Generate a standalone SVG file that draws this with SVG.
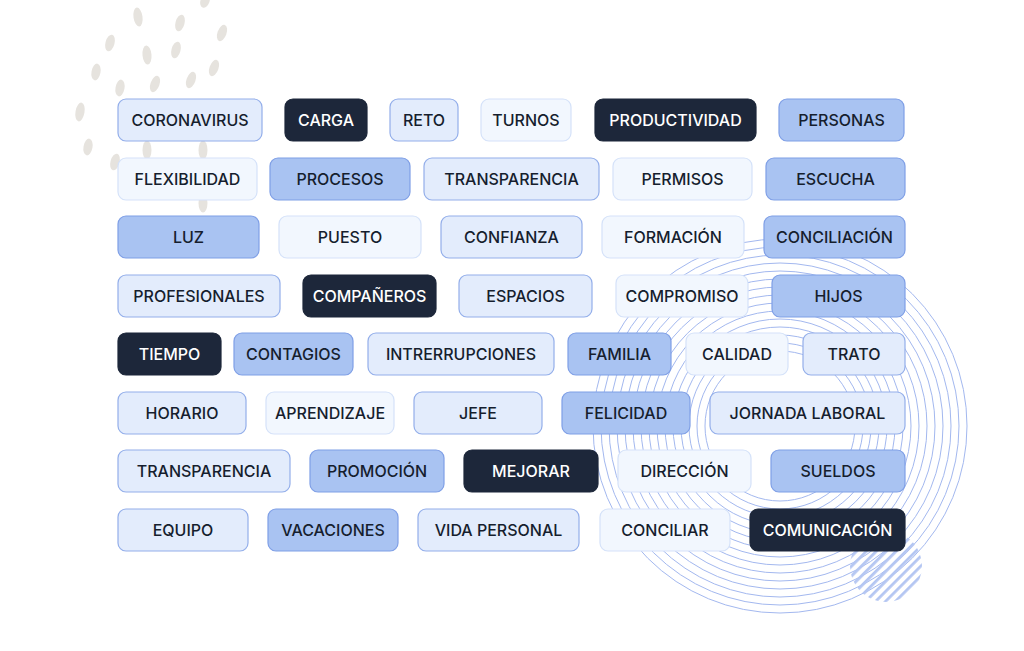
<svg xmlns="http://www.w3.org/2000/svg" width="1024" height="651" viewBox="0 0 1024 651">
<style>
.t rect{stroke-width:1.2}
.lt rect{fill:#f2f7fe;stroke:#d5e2f9}
.ml rect{fill:#e3ecfc;stroke:#93aeea}
.md rect{fill:#a9c3f2;stroke:#7f9fe6}
.dk rect{fill:#1d273a;stroke:#1d273a}
.t text{font-family:Inter,"Liberation Sans",sans-serif;font-size:16px;font-weight:500;fill:#161e2e;text-anchor:middle;dominant-baseline:central}
.dk text{fill:#ffffff}
.ring{fill:none;stroke:#a3b8ef;stroke-width:1}
.dash{fill:#e6e3de}
</style>
<defs>
<pattern id="stripes" patternUnits="userSpaceOnUse" width="7" height="7" patternTransform="rotate(45)">
<rect x="0" y="0" width="2.8" height="7" fill="#b4c6f2"/>
</pattern>
</defs>
<rect width="1024" height="651" fill="#ffffff"/>
<g id="dashes">
<ellipse class="dash" cx="138" cy="17" rx="4.5" ry="9.5" transform="rotate(-8 138 17)"/>
<ellipse class="dash" cx="180" cy="23" rx="4.5" ry="8.5" transform="rotate(15 180 23)"/>
<ellipse class="dash" cx="222" cy="33" rx="4.5" ry="8.5" transform="rotate(20 222 33)"/>
<ellipse class="dash" cx="205" cy="1" rx="4.5" ry="7" transform="rotate(20 205 1)"/>
<ellipse class="dash" cx="110" cy="43" rx="4.5" ry="8.5" transform="rotate(15 110 43)"/>
<ellipse class="dash" cx="147" cy="55" rx="4.5" ry="9.5" transform="rotate(-5 147 55)"/>
<ellipse class="dash" cx="176" cy="50" rx="4.5" ry="8.5" transform="rotate(15 176 50)"/>
<ellipse class="dash" cx="214" cy="68" rx="4.5" ry="8.5" transform="rotate(20 214 68)"/>
<ellipse class="dash" cx="96" cy="72" rx="4.5" ry="8.5" transform="rotate(10 96 72)"/>
<ellipse class="dash" cx="120" cy="88" rx="4.5" ry="8.5" transform="rotate(10 120 88)"/>
<ellipse class="dash" cx="155" cy="84" rx="4.5" ry="8.5" transform="rotate(20 155 84)"/>
<ellipse class="dash" cx="191" cy="80" rx="4.5" ry="8.5" transform="rotate(20 191 80)"/>
<ellipse class="dash" cx="80" cy="112" rx="4.5" ry="9.5" transform="rotate(10 80 112)"/>
<ellipse class="dash" cx="88" cy="147" rx="4.5" ry="8.5" transform="rotate(10 88 147)"/>
<ellipse class="dash" cx="115" cy="162" rx="4.5" ry="8.5" transform="rotate(15 115 162)"/>
<ellipse class="dash" cx="147" cy="150" rx="4.5" ry="9.5"/>
<ellipse class="dash" cx="203" cy="150" rx="4.5" ry="9.5"/>
<ellipse class="dash" cx="203" cy="203" rx="4.5" ry="9.5"/>
</g>
<g id="rings">
<circle class="ring" cx="780" cy="426" r="187"/>
<circle class="ring" cx="780" cy="426" r="179"/>
<circle class="ring" cx="780" cy="426" r="171"/>
<circle class="ring" cx="780" cy="426" r="163"/>
<circle class="ring" cx="780" cy="426" r="155"/>
<circle class="ring" cx="780" cy="426" r="147"/>
<circle class="ring" cx="780" cy="426" r="139"/>
<circle class="ring" cx="780" cy="426" r="131"/>
<circle class="ring" cx="780" cy="426" r="123"/>
<circle class="ring" cx="780" cy="426" r="115"/>
<circle class="ring" cx="780" cy="426" r="107"/>
<circle class="ring" cx="780" cy="426" r="99"/>
<circle class="ring" cx="780" cy="426" r="91"/>
<circle class="ring" cx="780" cy="426" r="83"/>
<circle class="ring" cx="780" cy="426" r="75"/>
</g>
<circle id="striped" cx="886" cy="566" r="36" fill="url(#stripes)"/>
<g id="tags">
<g id="n-coronavirus" class="t ml"><rect x="118" y="99" width="144" height="42" rx="8"/><text x="190" y="120">CORONAVIRUS</text></g>
<g id="n-carga" class="t dk"><rect x="285" y="99" width="82" height="42" rx="8"/><text x="326" y="120">CARGA</text></g>
<g id="n-reto" class="t ml"><rect x="390" y="99" width="68" height="42" rx="8"/><text x="424" y="120">RETO</text></g>
<g id="n-turnos" class="t lt"><rect x="481" y="99" width="90" height="42" rx="8"/><text x="526" y="120">TURNOS</text></g>
<g id="n-productividad" class="t dk"><rect x="595" y="99" width="161" height="42" rx="8"/><text x="675.5" y="120">PRODUCTIVIDAD</text></g>
<g id="n-personas" class="t md"><rect x="779" y="99" width="125" height="42" rx="8"/><text x="841.5" y="120">PERSONAS</text></g>

<g id="n-flexibilidad" class="t lt"><rect x="118" y="158" width="139" height="42" rx="8"/><text x="187.5" y="179">FLEXIBILIDAD</text></g>
<g id="n-procesos" class="t md"><rect x="270" y="158" width="140" height="42" rx="8"/><text x="340" y="179">PROCESOS</text></g>
<g id="n-transparencia1" class="t ml"><rect x="424" y="158" width="175" height="42" rx="8"/><text x="511.5" y="179">TRANSPARENCIA</text></g>
<g id="n-permisos" class="t lt"><rect x="613" y="158" width="139" height="42" rx="8"/><text x="682.5" y="179">PERMISOS</text></g>
<g id="n-escucha" class="t md"><rect x="766" y="158" width="139" height="42" rx="8"/><text x="835.5" y="179">ESCUCHA</text></g>

<g id="n-luz" class="t md"><rect x="118" y="216" width="141" height="42" rx="8"/><text x="188.5" y="237">LUZ</text></g>
<g id="n-puesto" class="t lt"><rect x="279" y="216" width="142" height="42" rx="8"/><text x="350" y="237">PUESTO</text></g>
<g id="n-confianza" class="t ml"><rect x="441" y="216" width="141" height="42" rx="8"/><text x="511.5" y="237">CONFIANZA</text></g>
<g id="n-formacion" class="t lt"><rect x="602" y="216" width="142" height="42" rx="8"/><text x="673" y="237">FORMACIÓN</text></g>
<g id="n-conciliacion" class="t md"><rect x="764" y="216" width="141" height="42" rx="8"/><text x="834.5" y="237">CONCILIACIÓN</text></g>

<g id="n-profesionales" class="t ml"><rect x="118" y="275" width="162" height="42" rx="8"/><text x="199" y="296">PROFESIONALES</text></g>
<g id="n-companeros" class="t dk"><rect x="303" y="275" width="133" height="42" rx="8"/><text x="369.5" y="296">COMPAÑEROS</text></g>
<g id="n-espacios" class="t ml"><rect x="459" y="275" width="133" height="42" rx="8"/><text x="525.5" y="296">ESPACIOS</text></g>
<g id="n-compromiso" class="t lt"><rect x="616" y="275" width="132" height="42" rx="8"/><text x="682" y="296">COMPROMISO</text></g>
<g id="n-hijos" class="t md"><rect x="772" y="275" width="133" height="42" rx="8"/><text x="838.5" y="296">HIJOS</text></g>

<g id="n-tiempo" class="t dk"><rect x="118" y="333" width="103" height="42" rx="8"/><text x="169.5" y="354">TIEMPO</text></g>
<g id="n-contagios" class="t md"><rect x="234" y="333" width="119" height="42" rx="8"/><text x="293.5" y="354">CONTAGIOS</text></g>
<g id="n-intrerrupciones" class="t ml"><rect x="368" y="333" width="186" height="42" rx="8"/><text x="461" y="354">INTRERRUPCIONES</text></g>
<g id="n-familia" class="t md"><rect x="568" y="333" width="103" height="42" rx="8"/><text x="619.5" y="354">FAMILIA</text></g>
<g id="n-calidad" class="t lt"><rect x="686" y="333" width="102" height="42" rx="8"/><text x="737" y="354">CALIDAD</text></g>
<g id="n-trato" class="t ml"><rect x="803" y="333" width="102" height="42" rx="8"/><text x="854" y="354">TRATO</text></g>

<g id="n-horario" class="t ml"><rect x="118" y="392" width="128" height="42" rx="8"/><text x="182" y="413">HORARIO</text></g>
<g id="n-aprendizaje" class="t lt"><rect x="266" y="392" width="128" height="42" rx="8"/><text x="330" y="413">APRENDIZAJE</text></g>
<g id="n-jefe" class="t ml"><rect x="414" y="392" width="128" height="42" rx="8"/><text x="478" y="413">JEFE</text></g>
<g id="n-felicidad" class="t md"><rect x="562" y="392" width="128" height="42" rx="8"/><text x="626" y="413">FELICIDAD</text></g>
<g id="n-jornada" class="t ml"><rect x="710" y="392" width="195" height="42" rx="8"/><text x="807.5" y="413">JORNADA LABORAL</text></g>

<g id="n-transparencia2" class="t ml"><rect x="118" y="450" width="172" height="42" rx="8"/><text x="204" y="471">TRANSPARENCIA</text></g>
<g id="n-promocion" class="t md"><rect x="310" y="450" width="134" height="42" rx="8"/><text x="377" y="471">PROMOCIÓN</text></g>
<g id="n-mejorar" class="t dk"><rect x="464" y="450" width="134" height="42" rx="8"/><text x="531" y="471">MEJORAR</text></g>
<g id="n-direccion" class="t lt"><rect x="618" y="450" width="133" height="42" rx="8"/><text x="684.5" y="471">DIRECCIÓN</text></g>
<g id="n-sueldos" class="t md"><rect x="771" y="450" width="134" height="42" rx="8"/><text x="838" y="471">SUELDOS</text></g>

<g id="n-equipo" class="t ml"><rect x="118" y="509" width="130" height="42" rx="8"/><text x="183" y="530">EQUIPO</text></g>
<g id="n-vacaciones" class="t md"><rect x="268" y="509" width="130" height="42" rx="8"/><text x="333" y="530">VACACIONES</text></g>
<g id="n-vidapersonal" class="t ml"><rect x="418" y="509" width="161" height="42" rx="8"/><text x="498.5" y="530">VIDA PERSONAL</text></g>
<g id="n-conciliar" class="t lt"><rect x="600" y="509" width="130" height="42" rx="8"/><text x="665" y="530">CONCILIAR</text></g>
<g id="n-comunicacion" class="t dk"><rect x="750" y="509" width="155" height="42" rx="8"/><text x="827.5" y="530">COMUNICACIÓN</text></g>
</g>
</svg>
